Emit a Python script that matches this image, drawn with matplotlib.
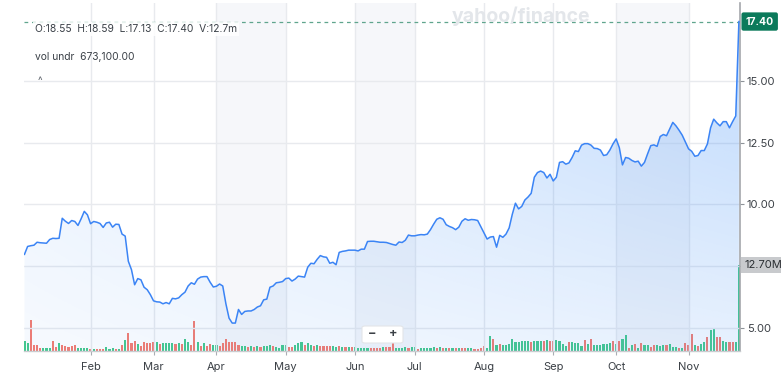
import numpy as np
import pandas as pd
import matplotlib
matplotlib.use("Agg")
import matplotlib.pyplot as plt
from matplotlib.colors import to_rgb
from matplotlib.patches import Polygon, FancyBboxPatch
from matplotlib.transforms import blended_transform_factory

plt.rcParams['font.family'] = ['Inter', 'DejaVu Sans']

# daily closes
close = [
    7.98, 8.30, 8.33, 8.35, 8.47, 8.45, 8.44, 8.43, 8.58, 8.63,
    8.62, 8.63, 9.44, 9.32, 9.23, 9.35, 9.31, 9.15, 9.42, 9.72,
    9.58, 9.22, 9.31, 9.28, 9.23, 9.07, 9.25, 9.28, 9.08, 9.20,
    9.19, 8.80, 8.72, 7.70, 7.36, 6.75, 7.00, 6.95, 6.65, 6.55,
    6.35, 6.10, 6.06, 6.05, 5.98, 6.03, 5.98, 6.20, 6.18, 6.22,
    6.35, 6.45, 6.70, 6.83, 6.77, 6.98, 7.06, 7.08, 7.08, 6.85,
    6.66, 6.69, 6.78, 6.70, 5.98, 5.40, 5.20, 5.20, 5.75, 5.55,
    5.67, 5.69, 5.69, 5.75, 5.85, 5.90, 6.14, 6.17, 6.65, 6.70,
    6.83, 6.85, 6.88, 7.00, 7.02, 6.90, 6.98, 7.10, 7.08, 7.06,
    7.46, 7.62, 7.60, 7.78, 7.93, 7.88, 7.86, 7.62, 7.66, 7.56,
    8.06, 8.10, 8.12, 8.15, 8.15, 8.15, 8.12, 8.19, 8.19, 8.50,
    8.51, 8.51, 8.49, 8.47, 8.47, 8.46, 8.42, 8.38, 8.35, 8.48,
    8.46, 8.55, 8.76, 8.73, 8.73, 8.76, 8.78, 8.77, 8.80, 8.98,
    9.20, 9.40, 9.46, 9.40, 9.18, 9.11, 9.06, 8.98, 9.08, 9.32,
    9.42, 9.36, 9.39, 9.38, 9.35, 9.10, 8.85, 8.60, 8.68, 8.70,
    8.27, 8.75, 8.67, 8.80, 9.05, 9.60, 10.05, 9.82, 9.92, 10.18,
    10.30, 10.45, 11.10, 11.29, 11.35, 11.29, 11.07, 11.22, 10.95, 11.10,
    11.70, 11.73, 11.63, 11.68, 11.90, 12.17, 12.14, 12.40, 12.46, 12.46,
    12.40, 12.27, 12.26, 12.20, 11.98, 12.01, 12.20, 12.45, 12.65, 12.30,
    11.60, 11.90, 11.87, 11.78, 11.72, 11.75, 11.55, 11.70, 12.05, 12.38,
    12.41, 12.35, 12.75, 12.83, 12.78, 13.05, 13.32, 13.18, 13.00, 12.80,
    12.52, 12.25, 12.15, 11.95, 11.98, 12.18, 12.18, 12.45, 13.10, 13.45,
    13.30, 13.18, 13.35, 13.35, 13.10, 13.35, 13.58, 17.40,
]

# daily volume in millions
volume_m = [
    1.48, 1.14, 4.58, 0.89, 0.89, 0.44, 0.44, 0.44, 0.44, 1.48,
    0.59, 1.14, 0.84, 0.74, 0.55, 0.69, 0.89, 0.40, 0.44, 0.44,
    0.42, 0.30, 0.25, 0.34, 0.34, 0.34, 0.59, 0.34, 0.49, 0.34,
    0.30, 0.84, 1.63, 2.66, 1.14, 1.48, 0.99, 0.74, 1.38, 1.18,
    1.23, 1.33, 1.38, 1.08, 1.23, 1.18, 1.23, 1.23, 1.08, 1.18,
    1.04, 1.73, 1.38, 0.84, 4.40, 1.38, 0.74, 1.18, 0.78, 1.04,
    0.89, 0.89, 0.74, 1.14, 1.73, 1.33, 1.29, 1.29, 0.89, 0.69,
    0.69, 0.55, 0.74, 0.59, 0.74, 0.64, 0.70, 0.74, 0.89, 0.69,
    0.59, 0.49, 0.84, 0.89, 0.59, 0.59, 0.89, 1.23, 1.29, 0.93,
    1.18, 0.89, 0.69, 0.93, 0.74, 0.74, 0.69, 0.69, 0.74, 0.59,
    0.74, 0.59, 0.59, 0.64, 0.55, 0.59, 0.40, 0.42, 0.44, 0.49,
    0.44, 0.44, 0.49, 0.44, 0.59, 0.64, 0.59, 1.45, 0.40,
    0.40, 0.49, 0.64, 0.40, 0.64, 0.64, 0.34, 0.40, 0.40, 0.40,
    0.42, 0.59, 0.49, 0.55, 0.44, 0.44, 0.40, 0.40, 0.44, 0.40,
    0.44, 0.40, 0.40, 0.38, 0.34, 0.34, 0.40, 0.74, 0.44, 2.17,
    1.73, 0.93, 0.99, 0.89, 0.89, 1.08, 1.73, 1.33, 1.33, 1.43,
    1.52, 1.43, 1.33, 1.48, 1.48, 1.48, 1.48, 1.67, 1.48, 1.43,
    1.63, 1.48, 0.99, 0.74, 1.38, 1.38, 1.23, 1.14, 0.78, 1.63,
    0.99, 1.73, 0.89, 0.89, 0.95, 1.08, 1.08, 1.14, 1.48, 1.04,
    1.48, 1.73, 2.37, 0.49, 0.84, 0.99, 0.49, 1.14, 0.84, 0.84,
    0.59, 0.84, 0.84, 0.69, 0.84, 0.84, 0.99, 0.59, 0.62, 0.44,
    0.49, 1.14, 0.93, 2.52, 0.84, 0.74, 1.08, 1.33, 2.12, 3.11,
    3.45, 2.12, 2.03, 1.48, 1.33, 1.33, 1.38, 1.33, 12.70,
]

# g = up day, r = down day
direction = (
    "ggrrrrgggr" "rgrrrrrggg" "g" "rgrrrgggrg" "rgrrrgrrrr"
    "rgrggggrgr" "ggrrgrgrrg" "grrrrrrrgg" "rgrgr" "g" "ggrgg"
    "ggrrgggrgg" "rgrrrrggrg" "rgrgg" "g" "ggrrrrgrrrg"
    "gggrggrggg" "g" "grgrgrgrgr" "rg" "g" "rrrrggrg" "rggggggggg"
    "rgggrgrrgg" "ggrggggrgr" "gg" "g" "gggrgrgg" "rgrgrggrrg"
    "ggrgg" "g" "rgrrr" "grggrggrrg" "grrgg"
)

holidays = ["2024-01-15", "2024-02-19", "2024-03-29", "2024-05-27",
            "2024-06-19", "2024-07-04", "2024-09-02"]
days = pd.bdate_range("2024-01-02", "2024-11-25")
days = days[~days.isin(pd.to_datetime(holidays))]

shaded_months = [4, 6, 10]
ohlc_text = "O:18.55  H:18.59  L:17.13  C:17.40  V:12.7m"
vol_text = "vol undr  673,100.00"

x = np.arange(len(days))
months = pd.Series(x, index=days).groupby(days.month).first()
month_names = [pd.Timestamp(2024, m, 1).strftime("%b") for m in months.index]

W, H = 781, 376
fig = plt.figure(figsize=(W / 100, H / 100), dpi=100)
fig.patch.set_facecolor("white")
rect = [24 / W, 25 / H, 716 / W, 348 / H]
xlim = (-0.15, len(x) - 1 + 0.35)
ylo, yhi = 4.07, 18.15

# volume pane underneath
axv = fig.add_axes(rect)
axv.set_xlim(*xlim)
axv.set_ylim(0, 12.7 * 348 / 86)
for m in shaded_months:
    axv.axvspan(months[m], months[m + 1], color="#f6f7fa", lw=0, zorder=0)
cols = ["#45c98c" if d == "g" else "#f47c70" for d in direction]
axv.bar(x, volume_m, width=0.68, color=cols, zorder=2)
axv.axis("off")

# price pane
ax = fig.add_axes(rect)
ax.patch.set_visible(False)

verts = list(zip(x, close)) + [(x[-1], ylo), (x[0], ylo)]
poly = Polygon(verts, closed=True, fc="none", ec="none")
ax.add_patch(poly)
gx = np.linspace(0, 1, 400)[None, :]
gy = np.linspace(0, 1, 200)[:, None]
img = np.zeros((200, 400, 4))
img[..., :3] = to_rgb("#3d8ef8")
img[..., 3] = (0.13 + 0.22 * gx) * (0.35 + 0.65 * gy)
im = ax.imshow(img, extent=[x[0], x[-1], ylo, yhi], origin="lower",
               aspect="auto", zorder=1)
im.set_clip_path(poly)

ax.plot(x, close, color="#3b84f5", lw=1.1, zorder=3, solid_joinstyle="round")
ax.axhline(close[-1], color="#5fa58d", lw=0.9, ls=(0, (3, 3)), zorder=2)

ax.set_xlim(*xlim)
ax.set_ylim(ylo, yhi)

yt = [5, 7.5, 10, 12.5, 15]
ax.yaxis.tick_right()
ax.set_yticks(yt)
ax.set_yticklabels(["" if v == 7.5 else f"{v:.2f}" for v in yt])
ax.set_xticks(list(months.values[1:]))
ax.set_xticklabels(month_names[1:])
ax.tick_params(axis="y", length=3, width=0.8, color="#8e9399", pad=2,
               labelsize=8, labelcolor="#3b4046")
ax.tick_params(axis="x", length=3, width=0.8, color="#a9adb3", pad=5,
               labelsize=8, labelcolor="#3b4046")
ax.set_axisbelow(True)
ax.grid(True, color="#e8eaee", lw=1)
for s in ["left", "top"]:
    ax.spines[s].set_visible(False)
ax.spines["right"].set_color("#a4a7ab")
ax.spines["right"].set_linewidth(1.2)
ax.spines["bottom"].set_color("#c9ccd0")
ax.spines["bottom"].set_linewidth(1.0)

# last-value tags
ax.text(1.0275, close[-1], f"{close[-1]:.2f}", transform=ax.get_yaxis_transform(),
        ha="center", va="center", color="white", fontsize=7.5, fontweight="bold",
        clip_on=False, zorder=10,
        bbox=dict(boxstyle="round,pad=0.4,rounding_size=0.2", fc="#0b7a5b", ec="none"))
tr = blended_transform_factory(ax.transAxes, axv.transData)
ax.text(1.006, volume_m[-1], f"{volume_m[-1]:.2f}M", transform=tr,
        ha="left", va="center", color="#2b2f33", fontsize=8,
        clip_on=False, zorder=10,
        bbox=dict(boxstyle="square,pad=0.3", fc="#c8cacd", ec="none"))

# header texts
fig.text(35 / W, 1 - 29 / H, ohlc_text, fontsize=7.4, color="#3a4047", va="center",
         bbox=dict(boxstyle="square,pad=0.2", fc="white", ec="none", alpha=0.85))
fig.text(35 / W, 1 - 57 / H, vol_text, fontsize=7.4, color="#3a4047", va="center")
fig.text(40 / W, 1 - 81 / H, "^", fontsize=7, color="#5a6068", ha="center", va="center")
fig.text(521 / W, 1 - 16 / H, "yahoo/finance", ha="center", va="center",
         fontsize=14, fontweight="bold", color="#e3e6ea")

# zoom buttons
fig.add_artist(FancyBboxPatch((362 / W, 1 - 343 / H), 41 / W, 17 / H,
                              boxstyle="round,pad=0,rounding_size=0.004",
                              transform=fig.transFigure, fc="white", ec="#e3e5e8", lw=0.8))
fig.text(372 / W, 1 - 334 / H, "\u2212", fontsize=9, fontweight="bold",
         color="#3b4046", ha="center", va="center")
fig.text(393 / W, 1 - 334 / H, "+", fontsize=9, fontweight="bold",
         color="#3b4046", ha="center", va="center")

fig.savefig("out.png", dpi=100)
